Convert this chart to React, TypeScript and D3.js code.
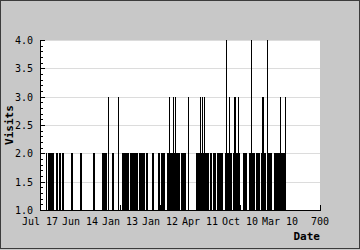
import React from "react";
import * as d3 from "d3";

// Daily visit records (newest first); value 1 is the axis floor
const visits: number[] = [
  1,1,1,1,1,1,1,1,1,1,1,1,1,1,1,2,2,2,1,1,2,2,2,2,2,
  2,2,2,2,2,2,2,2,2,2,1,1,1,1,1,2,2,2,2,2,1,1,1,2,2,
  2,2,2,1,1,2,2,2,2,2,1,1,1,1,1,1,1,1,1,1,1,1,1,1,1,
  1,1,1,2,2,2,2,2,1,1,1,1,1,1,1,1,1,1,1,1,1,1,1,1,1,
  2,2,2,2,2,1,1,1,1,1,1,1,1,1,1,1,1,1,1,1,1,1,1,1,1,
  1,1,1,1,1,1,1,1,2,2,2,2,2,1,1,1,1,1,1,1,1,1,1,1,1,
  1,1,1,1,1,2,2,2,2,2,2,2,2,2,2,2,2,2,1,1,3,1,1,1,1,
  1,1,1,1,1,2,2,2,2,2,1,1,1,1,1,1,1,1,1,1,3,1,1,1,1,
  1,1,1,1,1,2,2,2,2,2,2,2,2,2,2,2,2,2,2,2,2,2,2,1,1,
  2,2,2,2,2,2,2,2,2,2,2,2,2,2,2,2,2,2,2,2,1,1,1,2,2,
  2,2,2,2,2,2,2,2,2,2,2,2,2,1,1,2,2,2,2,2,1,1,1,1,1,
  1,1,1,1,1,2,2,2,2,2,1,1,1,1,1,1,1,1,1,1,2,2,2,2,2,
  1,1,1,2,2,2,2,2,2,2,2,2,2,1,1,1,1,1,2,2,2,2,2,3,2,
  2,2,2,2,2,2,2,2,3,2,2,2,2,3,2,2,2,2,2,2,2,2,2,2,2,
  1,1,1,2,2,2,2,2,2,2,2,2,2,2,2,1,1,1,1,1,3,1,1,1,1,
  1,1,1,1,1,1,1,1,1,1,1,1,1,1,1,2,2,2,2,2,2,2,2,2,2,
  3,2,2,2,2,3,2,2,2,2,3,2,2,2,2,2,2,2,2,2,2,2,2,1,1,
  2,2,2,2,2,1,1,1,2,2,2,2,2,2,2,1,1,1,2,2,2,2,2,2,2,
  2,2,2,2,2,2,2,2,1,1,1,1,1,2,2,4,2,2,2,2,2,2,2,3,2,
  2,2,2,2,2,1,1,1,2,2,3,2,2,3,2,2,2,2,2,2,3,2,2,2,2,
  1,1,1,1,1,1,1,1,2,2,2,2,2,2,2,2,2,2,1,1,1,1,1,2,2,
  2,2,2,4,2,2,2,2,2,2,2,2,2,1,1,2,2,2,2,2,2,2,2,2,2,
  1,1,1,2,2,3,2,2,3,2,2,2,2,2,2,1,1,1,4,2,2,2,2,2,2,
  2,2,2,2,2,1,1,1,1,1,2,2,2,2,2,2,2,2,2,2,2,2,2,2,2,
  3,2,2,2,2,2,2,2,2,2,2,2,2,3,2,
];

const xTicks: number[] = [0, 100, 200, 300, 400, 500, 600, 700];
const xTickLabels: string[] = ["Jul 17", "Jun 14", "Jan 13", "Jan 12", "Apr 11", "Oct 10", "Mar 10", "700"];
const yTicks: number[] = [1.0, 1.5, 2.0, 2.5, 3.0, 3.5, 4.0];
const yMinorTicks: number[] = d3.range(10, 41).map((v) => v / 10);

const W = 360;
const H = 250;
const L = 40, R = 320, T = 40, B = 210;
const FONT = "'DejaVu Sans Mono', monospace";

export default function App() {
  const x = d3.scaleLinear().domain([0, 700]).range([L, R]);
  const y = d3.scaleLinear().domain([1, 4]).range([B, T]);
  const px = (v: number) => Math.floor(x(v) + 1e-6);
  const py = (v: number) => Math.round(y(v));

  return (
    <svg
      width={W}
      height={H}
      style={{ position: "absolute", left: 0, top: 0, display: "block" }}
      shapeRendering="crispEdges"
    >
      <rect x={0} y={0} width={W} height={H} fill="#c8c8c8" />
      <rect x={0.5} y={0.5} width={W - 1} height={H - 2} fill="none" stroke="#3c3c3c" />
      <rect x={L} y={T} width={R - L} height={B - T} fill="#ffffff" />
      {/* grid */}
      {yTicks.slice(1).map((t) => (
        <line key={"g" + t} x1={L} x2={R} y1={py(t) + 0.5} y2={py(t) + 0.5} stroke="#dcdcdc" strokeWidth={1} />
      ))}
      {/* bars */}
      {visits.map((v, i) =>
        v > 1 ? (
          <rect key={i} x={px(i)} y={py(v)} width={1} height={B - py(v)} fill="#000" />
        ) : null
      )}
      {/* axes */}
      <line x1={L + 0.5} x2={L + 0.5} y1={T} y2={B + 1} stroke="#000" />
      <line x1={L} x2={R + 1} y1={B + 0.5} y2={B + 0.5} stroke="#000" />
      {yMinorTicks.map((t) => (
        <line key={"m" + t} x1={L} x2={L + 3} y1={py(t) + 0.5} y2={py(t) + 0.5} stroke="#000" />
      ))}
      {yTicks.map((t) => (
        <line key={"t" + t} x1={L} x2={L + 5} y1={py(t) + 0.5} y2={py(t) + 0.5} stroke="#000" />
      ))}
      {xTicks.map((t) => (
        <line key={"xt" + t} x1={px(t) + 0.5} x2={px(t) + 0.5} y1={B - 5} y2={B} stroke="#000" />
      ))}
      {/* labels */}
      <g fontFamily={FONT} fontSize={10} fill="#000">
        {yTicks.map((t) => (
          <text key={"yl" + t} x={33} y={py(t) + 4} textAnchor="end">
            {t.toFixed(1)}
          </text>
        ))}
        {xTicks.map((t, i) => (
          <text key={"xl" + t} x={x(t)} y={225} textAnchor="middle">
            {xTickLabels[i]}
          </text>
        ))}
      </g>
      <text
        x={0}
        y={0}
        transform={`translate(13,125) rotate(-90)`}
        textAnchor="middle"
        fontFamily={FONT}
        fontSize={11}
        fontWeight="bold"
      >
        Visits
      </text>
      <text x={R} y={240} textAnchor="end" fontFamily={FONT} fontSize={11} fontWeight="bold">
        Date
      </text>
    </svg>
  );
}
